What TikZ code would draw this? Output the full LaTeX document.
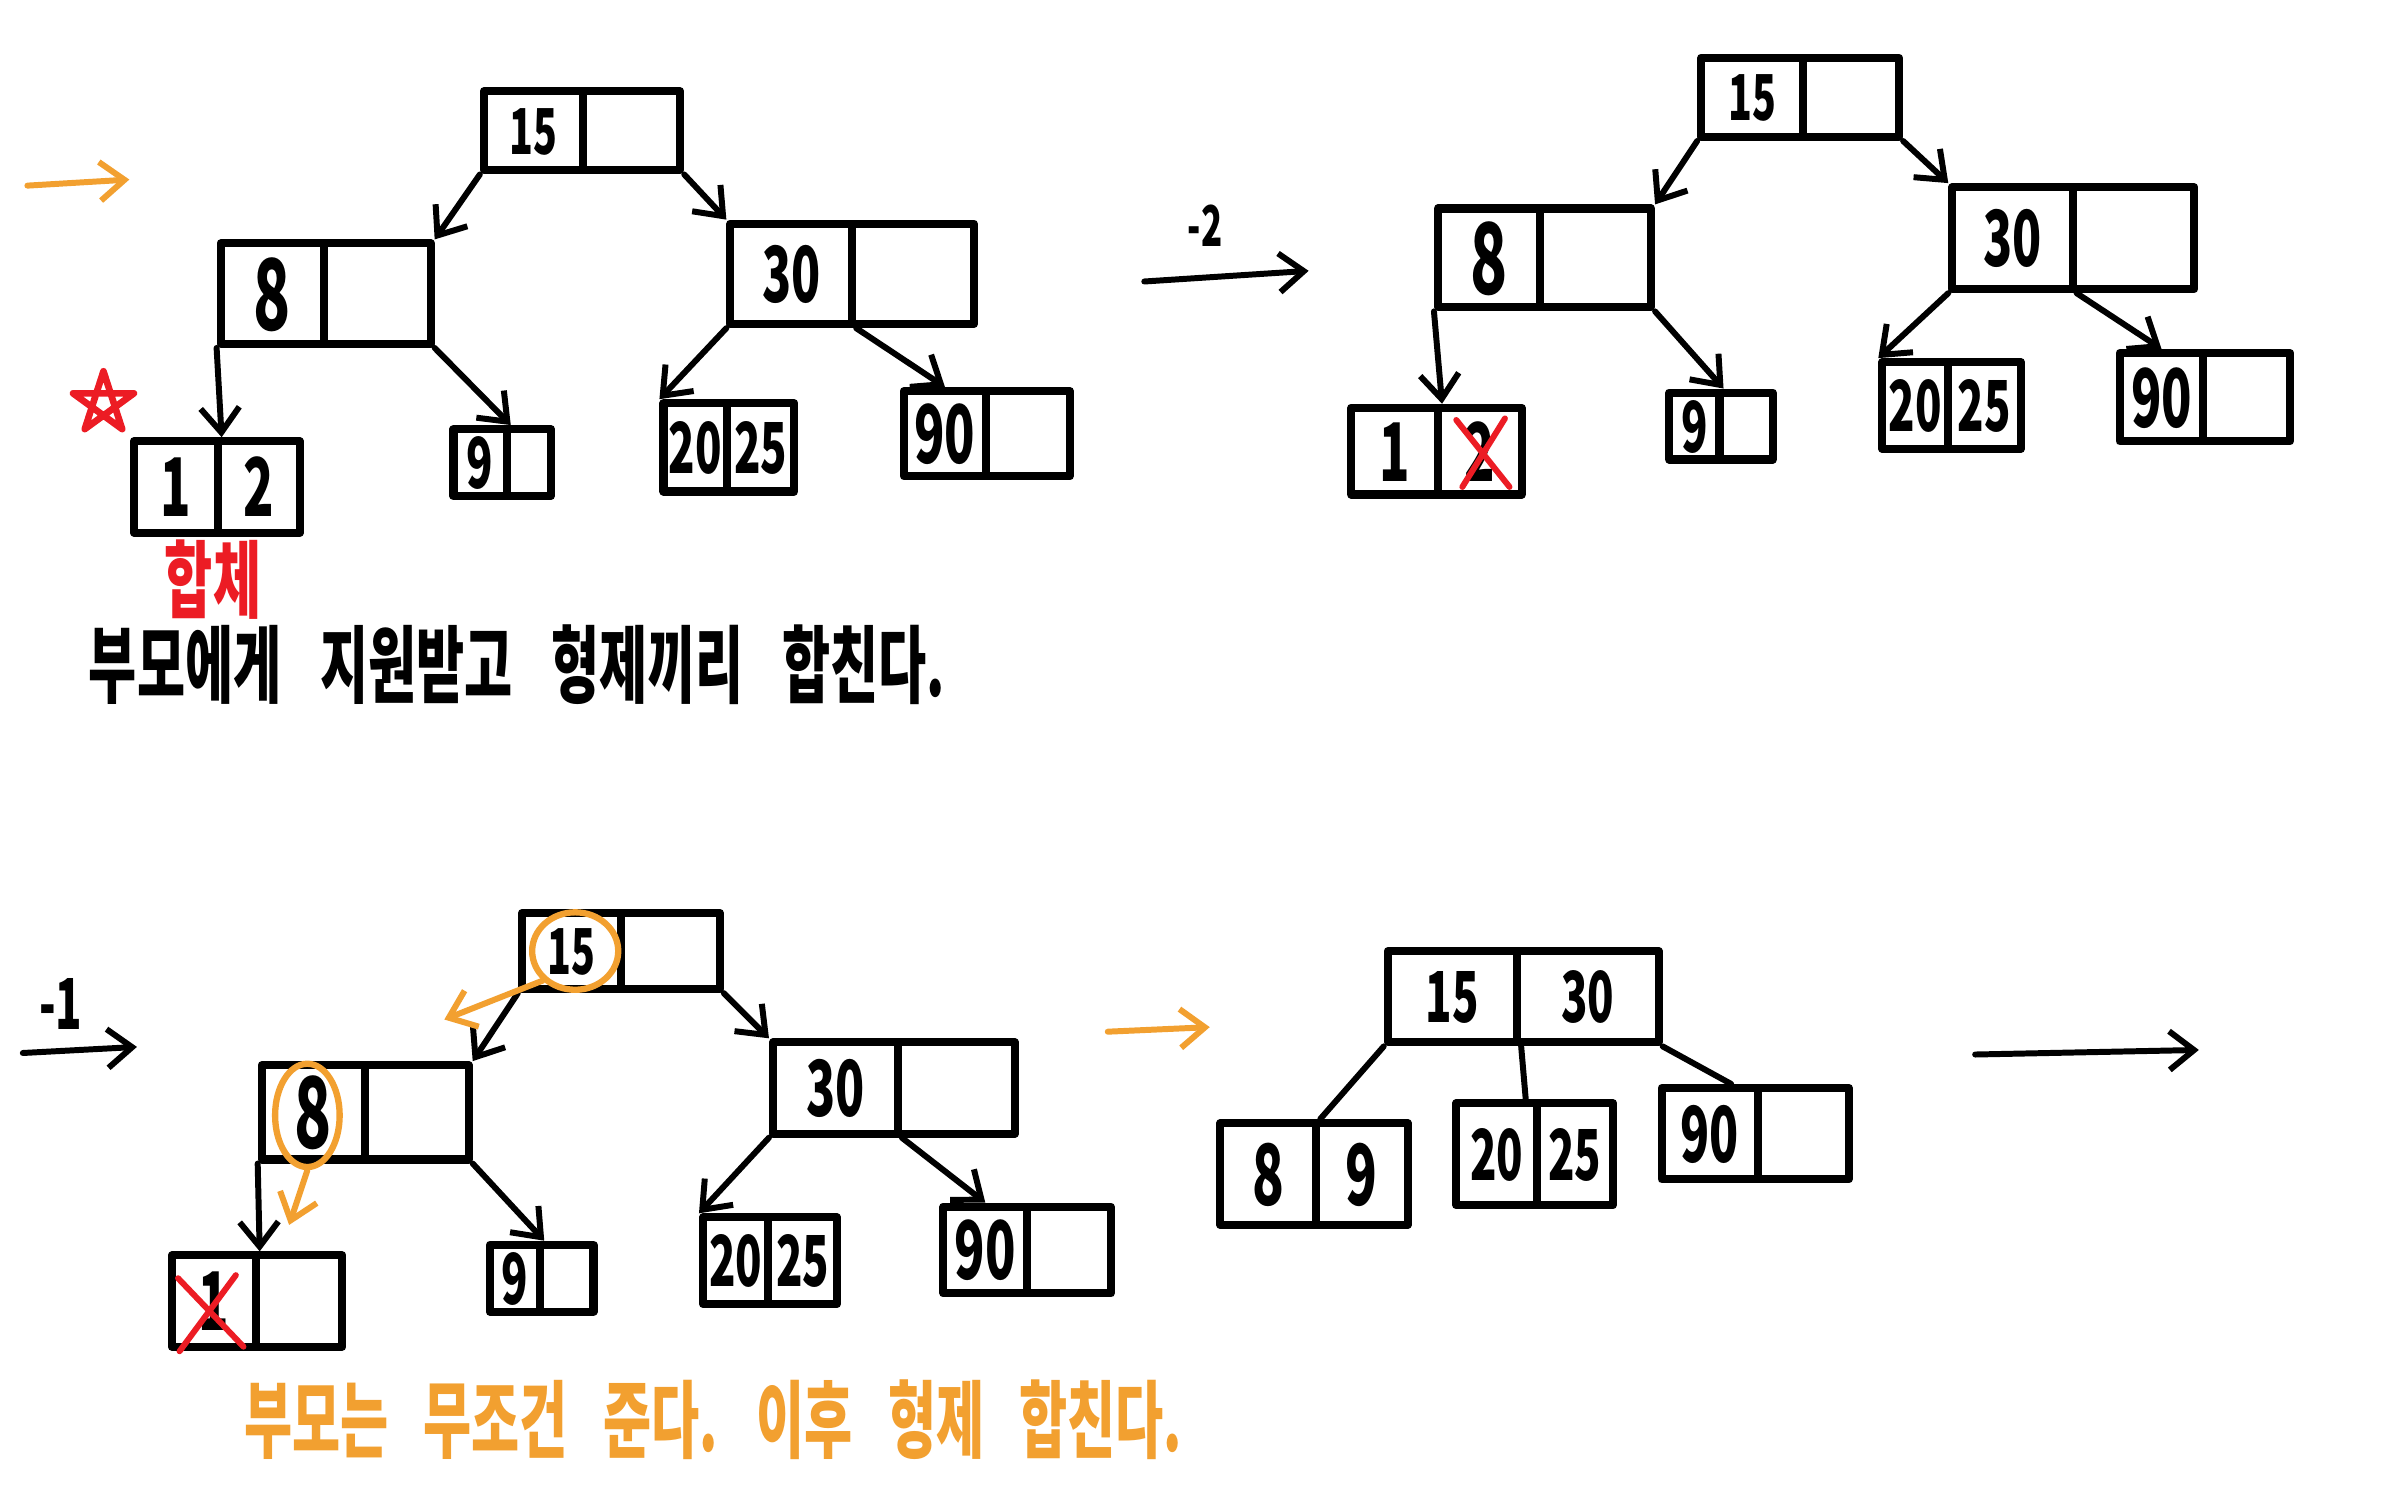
\documentclass[tikz,border=0pt]{standalone}
\usepackage{fontspec}
\newfontfamily\hand[FakeStretch=0.62]{Noto Sans CJK KR}
\usetikzlibrary{arrows.meta,fit,calc,shapes.geometric}
\definecolor{orng}{RGB}{242,160,48}
\definecolor{hred}{RGB}{236,28,36}
\newcommand\fs[1]{\fontsize{#1}{#1}\selectfont}
\newcommand\cc[1]{\raisebox{-0.37em}[0pt][0pt]{#1}}
\newcommand\tbox[9]{%
 \node[cell,fit={(#2,#3) (#4,#6)}] (#1l) {#9\cc{#7}};
 \node[cell,fit={(#4,#3) (#5,#6)}] (#1r) {#9\cc{#8}};}
\tikzset{
  cell/.style={draw, line width=2.3pt, inner sep=0pt, rectangle, line join=round, font=\hand\bfseries},
  arr/.style={line width=1.7pt, line cap=round, -{Straight Barb[length=7pt,width=11pt]}},
  oarr/.style={arr, draw=orng},
  ln/.style={line width=1.7pt, line cap=round},
  cross/.style={draw=hred, line width=1.7pt, line cap=round},
  txt/.style={inner sep=0pt}
}
\begin{document}
\begin{tikzpicture}[x=0.15217mm, y=-0.15217mm]
\path[use as bounding box, fill=white] (0,0) rectangle (1568,980);

% ---------- diagram 1 ----------
\coordinate (t1a) at (18,122); \coordinate (t1b) at (85,118);
\draw[oarr] (t1a) -- (t1b);
\tbox{a15}{318}{60}{383}{447}{112}{15}{}{\fs{18}}
\tbox{a8}{145}{160}{213}{283}{226}{8}{}{\fs{28}}
\tbox{a30}{480}{147}{560}{640}{213}{30}{}{\fs{22}}
\tbox{a12}{88}{290}{143}{197}{350}{1}{2}{\fs{23}}
\tbox{a9}{298}{282}{333}{362}{326}{9}{}{\fs{20}}
\tbox{a2025}{436}{265}{478}{522}{323}{20}{25}{\fs{20}}
\tbox{a90}{594}{257}{648}{703}{313}{90}{}{\fs{23}}
\draw[arr] (a15l.south west) -- (a8r.north east);
\draw[arr] (a15r.south east) -- (a30l.north west);
\draw[arr] (a8l.south west) -- (a12l.north east);
\draw[arr] (a8r.south east) -- (a9l.north east);
\draw[arr] (a30l.south west) -- (a2025l.north west);
\draw[arr] (a30l.south east) -- (a90l.north);
\draw[draw=hred, line width=1.9pt, line join=round]
  (68,244) -- (55.7,282) -- (88,258.5) -- (48,258.5) -- (80.3,282) -- cycle;
\node[txt, text=hred, font=\hand\bfseries\fs{24}] (thap) at (140,381) {합체};
\node[txt, font=\hand\bfseries\fs{24}, anchor=west] (texp1) at (58,437)
  {\spaceskip=11pt\relax 부모에게 지원받고 형제끼리 합친다.};

% ---------- diagram 2 ----------
\coordinate (t2a) at (752,185); \coordinate (t2b) at (860,178);
\draw[arr] (t2a) -- (t2b);
\node[txt, font=\hand\bfseries\fs{16}] (tm2) at (792,148) {-2};
\tbox{b15}{1118}{38}{1185}{1248}{90}{15}{}{\fs{18}}
\tbox{b8}{945}{137}{1012}{1085}{202}{8}{}{\fs{28}}
\tbox{b30}{1283}{123}{1362}{1442}{190}{30}{}{\fs{22}}
\tbox{b12}{888}{268}{945}{1000}{325}{1}{2}{\fs{23}}
\tbox{b9}{1097}{258}{1130}{1165}{302}{9}{}{\fs{20}}
\tbox{b2025}{1237}{238}{1280}{1328}{295}{20}{25}{\fs{20}}
\tbox{b90}{1393}{232}{1448}{1505}{290}{90}{}{\fs{23}}
\draw[arr] (b15l.south west) -- (b8r.north east);
\draw[arr] (b15r.south east) -- (b30l.north west);
\draw[arr] (b8l.south west) -- (b12l.north east);
\draw[arr] (b8r.south east) -- (b9l.north east);
\draw[arr] (b30l.south west) -- (b2025l.north west);
\draw[arr] (b30l.south east) -- (b90l.north);
\draw[cross] (957,276) -- (992,320);
\draw[cross] (989,275) -- (961,320);

% ---------- diagram 3 ----------
\coordinate (t3a) at (15,692); \coordinate (t3b) at (90,688);
\draw[arr] (t3a) -- (t3b);
\node[txt, font=\hand\bfseries\fs{20}] (tm1) at (40,660) {-1};
\tbox{c15}{343}{600}{408}{473}{650}{15}{}{\fs{18}}
\tbox{c8}{172}{700}{240}{308}{762}{8}{}{\fs{28}}
\tbox{c30}{508}{685}{590}{667}{745}{30}{}{\fs{22}}
\tbox{c1}{113}{825}{168}{225}{885}{1}{}{\fs{23}}
\tbox{c9}{322}{818}{355}{390}{862}{9}{}{\fs{20}}
\tbox{c2025}{462}{800}{505}{550}{857}{20}{25}{\fs{20}}
\tbox{c90}{620}{793}{675}{730}{850}{90}{}{\fs{23}}
\draw[arr] (c15l.south west) -- (c8r.north east);
\draw[arr] (c15r.south east) -- (c30l.north west);
\draw[arr] (c8l.south west) -- (c1l.north east);
\draw[arr] (c8r.south east) -- (c9l.north east);
\draw[arr] (c30l.south west) -- (c2025l.north west);
\draw[arr] (c30l.south east) -- (c90l.north);
\node[ellipse, draw=orng, line width=1.8pt, inner sep=0pt, fit={(358,607) (398,643)}] (cir15) {};
\node[ellipse, draw=orng, line width=1.8pt, inner sep=0pt, fit={(187,709) (217,757)}] (cir8) {};
\coordinate (o1) at (292,670);
\coordinate (o2) at (190,805);
\draw[oarr] (cir15.south west) -- (o1);
\draw[oarr] (cir8.south) -- (o2);
\draw[cross] (117,840) -- (160,885);
\draw[cross] (155,838) -- (118,888);
\node[txt, text=orng, font=\hand\bfseries\fs{24}, anchor=west] (texp2) at (160,933)
  {\spaceskip=10pt\relax 부모는 무조건 준다. 이후 형제 합친다.};

% ---------- diagram 4 ----------
\coordinate (t4a) at (728,678); \coordinate (t4b) at (795,675);
\draw[oarr] (t4a) -- (t4b);
\tbox{d1530}{912}{625}{997}{1090}{685}{15}{30}{\fs{20}}
\tbox{d89}{802}{738}{865}{925}{805}{8}{9}{\fs{24}}
\tbox{d2025}{957}{725}{1010}{1060}{792}{20}{25}{\fs{20}}
\tbox{d90}{1092}{715}{1155}{1215}{775}{90}{}{\fs{22}}
\draw[ln] (d1530l.south west) -- (d89l.north east);
\draw[ln] (d1530l.south east) -- ($(d2025l.north east)+(-10,0)$);
\draw[ln] (d1530r.south east) -- ($(d90l.north east)+(-20,0)$);
\coordinate (t5a) at (1298,693); \coordinate (t5b) at (1445,690);
\draw[arr] (t5a) -- (t5b);
\end{tikzpicture}
\end{document}
